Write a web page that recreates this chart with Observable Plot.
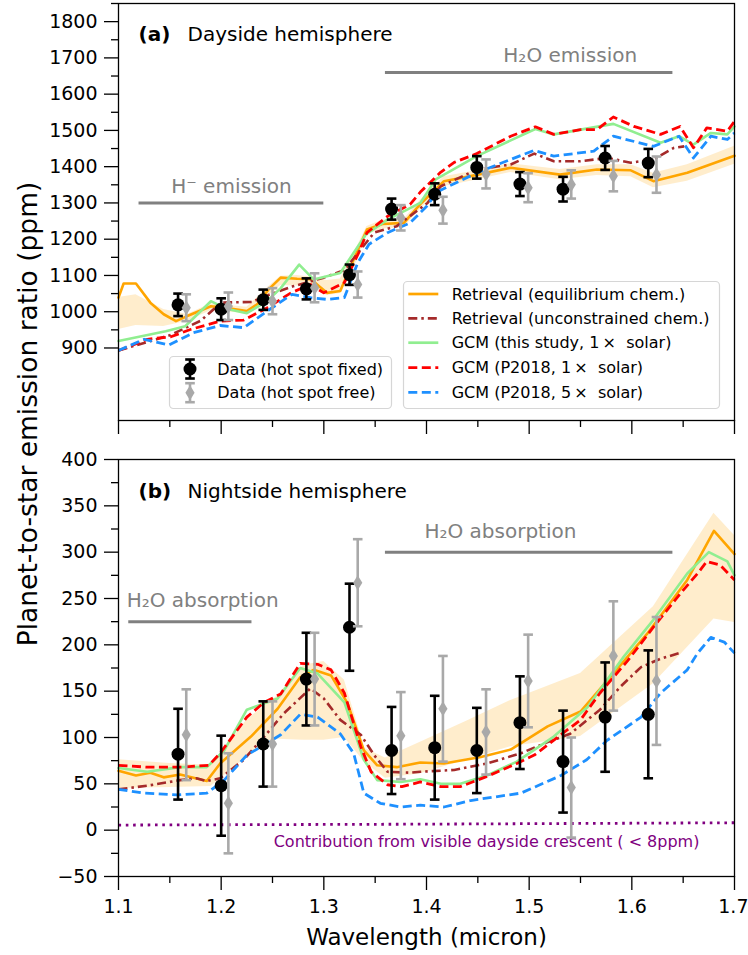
<!DOCTYPE html>
<html><head><meta charset="utf-8">
<script src="https://cdn.jsdelivr.net/npm/d3@7"></script>
<script src="https://cdn.jsdelivr.net/npm/@observablehq/plot@0.6"></script>
<style>
body{margin:0;background:#fff;font-family:"DejaVu Sans",sans-serif;}
#wrap{position:relative;width:748px;height:955px;overflow:hidden;background:#fff;}
#topPanel,#botPanel{position:absolute;left:0;}
#topPanel{top:0}#botPanel{top:440px}
#ylab{position:absolute;left:27px;top:414px;transform:translate(-50%,-50%) rotate(-90deg);white-space:nowrap;font-size:26.5px;color:#000;}
#leg{position:absolute;left:0;top:0;}
</style></head>
<body><div id="wrap"><div id="topPanel"></div><div id="botPanel"></div><div id="ylab">Planet-to-star emission ratio (ppm)</div></div>
<script>
// ---------- axis ticks ----------
const xMajor = [1.1,1.2,1.3,1.4,1.5,1.6,1.7];
const xMinor = [1.15,1.25,1.35,1.45,1.55,1.65];
const dayYMajor = [900,1000,1100,1200,1300,1400,1500,1600,1700,1800];
const dayYMinor = [950,1050,1150,1250,1350,1450,1550,1650,1750,1850];
const nightYMajor = [-50,0,50,100,150,200,250,300,350,400];
const nightYMinor = [-25,25,75,125,175,225,275,325,375];

// ---------- data points ----------
const wlFixed = [1.158,1.200,1.241,1.283,1.325,1.366,1.408,1.449,1.491,1.533,1.574,1.616];
const wlFree  = [1.166,1.207,1.250,1.291,1.333,1.375,1.416,1.458,1.499,1.541,1.582,1.624];
const dayFixed    = [1019,1007,1033,1063,1102,1283,1324,1398,1352,1338,1424,1410];
const dayFixedErr = [31,30,28,29,28,29,30,31,33,34,33,39];
const dayFree     = [1011,1015,1029,1066,1075,1259,1280,1380,1342,1351,1374,1378];
const dayFreeErr  = [37,38,36,40,36,35,37,40,40,39,42,50];
const nightFixed    = [82,48,93,163,219,86,89,86,116,74,122,125];
const nightFixedErr = [49,54,46,50,47,47,56,46,50,55,59,69];
const nightFree     = [103,29,93,163,267,102,131,106,161,46,188,161];
const nightFreeErr  = [49,54,46,50,47,47,57,46,50,54,59,69];

// ---------- dayside models ----------
const dayEqWl = [1.100,1.105,1.117,1.131,1.144,1.156,1.167,1.190,1.204,1.225,1.235,1.246,1.258,1.274,1.287,1.303,1.316,1.330,1.342,1.357,1.378,1.395,1.408,1.417,1.443,1.482,1.530,1.566,1.599,1.621,1.654,1.700];
const dayEq   = [1039,1078,1078,1025,993,974,988,1015,1011,1002,1020,1061,1094,1091,1090,1052,1057,1150,1227,1242,1245,1300,1335,1360,1374,1397,1378,1392,1390,1360,1383,1430];
const dayBandWl = [1.100,1.117,1.144,1.167,1.190,1.225,1.246,1.258,1.274,1.290,1.303,1.316,1.330,1.342,1.357,1.378,1.395,1.417,1.443,1.482,1.530,1.566,1.599,1.621,1.654,1.700];
const dayBandLo = [951,962,959,974,1003,995,1045,1072,1071,1066,1045,1050,1125,1212,1228,1232,1285,1345,1360,1384,1364,1376,1372,1342,1360,1407];
const dayBandHi = [1039,1047,1006,992,1022,1012,1068,1098,1100,1095,1086,1090,1165,1235,1252,1255,1310,1372,1386,1408,1392,1405,1405,1382,1405,1456];
const dayFreeChemWl = [1.100,1.150,1.180,1.200,1.230,1.245,1.270,1.300,1.320,1.349,1.371,1.401,1.414,1.449,1.482,1.505,1.524,1.550,1.576,1.599,1.621,1.641,1.651];
const dayFreeChem   = [893,935,975,1025,1027,1045,1070,1094,1115,1218,1236,1300,1346,1392,1406,1436,1415,1415,1424,1411,1420,1452,1456];
const dayGcmWl = [1.100,1.146,1.165,1.190,1.205,1.225,1.245,1.258,1.276,1.290,1.316,1.341,1.362,1.394,1.409,1.449,1.506,1.524,1.582,1.628,1.646,1.660,1.677,1.693,1.700];
const dayGcm   = [919,946,960,1029,1008,996,1030,1065,1130,1089,1107,1213,1254,1300,1365,1429,1504,1489,1518,1466,1484,1461,1493,1489,1511];
const dayP1Wl = [1.100,1.128,1.151,1.170,1.199,1.222,1.245,1.268,1.287,1.300,1.320,1.334,1.342,1.362,1.384,1.394,1.414,1.427,1.449,1.482,1.506,1.524,1.550,1.566,1.582,1.602,1.628,1.647,1.660,1.673,1.693,1.700];
const dayP1   = [893,924,931,951,974,977,1011,1052,1075,1052,1080,1163,1218,1263,1296,1330,1385,1412,1436,1484,1510,1489,1502,1502,1537,1511,1489,1511,1452,1507,1498,1525];
const dayP5Wl = [1.100,1.125,1.149,1.173,1.199,1.222,1.245,1.269,1.287,1.303,1.320,1.333,1.344,1.362,1.384,1.400,1.410,1.449,1.482,1.505,1.524,1.563,1.582,1.621,1.646,1.660,1.677,1.693,1.700];
const dayP5   = [893,924,908,942,962,956,1002,1048,1039,1034,1039,1135,1186,1218,1245,1290,1330,1383,1420,1445,1429,1443,1484,1456,1484,1424,1484,1475,1493];

// ---------- nightside models ----------
const nightEqWl = [1.100,1.117,1.131,1.144,1.160,1.186,1.199,1.229,1.255,1.277,1.290,1.307,1.323,1.339,1.352,1.371,1.394,1.417,1.453,1.482,1.518,1.550,1.582,1.615,1.654,1.680,1.700];
const nightEq   = [64,59,62,57,60,53,72,101,131,165,173,167,137,86,70,68,73,72,79,87,112,128,169,212,270,323,298];
const nightBandWl = [1.100,1.150,1.190,1.225,1.255,1.280,1.300,1.320,1.340,1.360,1.394,1.440,1.482,1.550,1.621,1.680,1.700];
const nightBandLo = [45,46,47,79,98,97,97,100,73,56,61,76,90,101,158,228,224];
const nightBandHi = [76,72,70,119,145,178,182,162,88,78,95,118,140,169,241,342,318];
const nightFreeChemWl = [1.100,1.128,1.160,1.176,1.186,1.199,1.222,1.242,1.261,1.287,1.300,1.316,1.336,1.349,1.362,1.384,1.394,1.427,1.459,1.492,1.518,1.540,1.569,1.589,1.609,1.628,1.646];
const nightFreeChem   = [44,48,54,56,53,56,76,101,126,153,142,119,103,81,63,62,63,65,72,83,95,104,130,155,176,185,191];
const nightGcmWl = [1.100,1.128,1.160,1.186,1.203,1.225,1.255,1.277,1.294,1.320,1.339,1.352,1.375,1.394,1.414,1.433,1.459,1.488,1.524,1.557,1.592,1.621,1.654,1.675,1.693,1.700];
const nightGcm   = [67,63,68,68,86,130,142,175,169,138,76,54,52,55,50,50,59,74,101,133,187,227,277,300,290,275];
const nightP1Wl = [1.100,1.128,1.160,1.188,1.199,1.225,1.242,1.258,1.277,1.294,1.307,1.320,1.336,1.346,1.362,1.376,1.394,1.414,1.433,1.459,1.488,1.505,1.531,1.550,1.569,1.596,1.621,1.647,1.664,1.673,1.686,1.700];
const nightP1   = [70,68,68,70,83,122,138,147,180,179,173,148,90,63,49,47,52,47,47,58,72,81,103,119,148,183,219,255,277,290,286,270];
const nightP5Wl = [1.100,1.125,1.157,1.186,1.203,1.225,1.242,1.258,1.277,1.294,1.316,1.329,1.339,1.355,1.375,1.394,1.417,1.443,1.492,1.531,1.556,1.576,1.609,1.628,1.654,1.664,1.677,1.690,1.700];
const nightP5   = [44,40,38,40,54,81,92,103,125,122,104,83,40,29,25,27,25,32,40,59,76,97,122,148,173,191,208,203,191];
const crescentWl = [1.10,1.40,1.70];
const crescent   = [5.5,6.5,8];

// ---------- annotations ----------
const dayNotes = [
  {label:"H\u207B emission", x:1.21, x1:1.12, x2:1.30, y:1300, dy:-10},
  {label:"H\u2082O emission", x:1.54, x1:1.36, x2:1.64, y:1660, dy:-10}
];
const nightNotes = [
  {label:"H\u2082O absorption", x:1.182, x1:1.11, x2:1.23, y:225, dy:-15},
  {label:"H\u2082O absorption", x:1.472, x1:1.36, x2:1.64, y:300, dy:-14}
];

(function(){
const C = {eq:"#ffa500", free:"#a52a2a", gcm:"#90ee90", p1:"#ff0000", p5:"#1e90ff", gray:"#a9a9a9", note:"#808080", purple:"#800080"};

const rows = (xs, ys) => xs.map((x,i)=>({x, y:ys[i]}));
const band = (xs, lo, hi) => xs.map((x,i)=>({x, lo:lo[i], hi:hi[i]}));
const pts = (xs, ys, es) => xs.map((x,i)=>({x, y:ys[i], e:es[i]}));

const capSym = {draw(ctx){ctx.moveTo(-4.8,0);ctx.lineTo(4.8,0);}};
const diamondSym = {draw(ctx){ctx.moveTo(0,-7.5);ctx.lineTo(4.6,0);ctx.lineTo(0,7.5);ctx.lineTo(-4.6,0);ctx.closePath();}};

function errMarks(data, color, sym, r){
  return [
    Plot.ruleX(data, {x:"x", y1:d=>d.y-d.e, y2:d=>d.y+d.e, stroke:color, strokeWidth:2.6}),
    Plot.dot(data, {x:"x", y:d=>d.y-d.e, symbol:capSym, fill:"none", stroke:color, strokeWidth:2.6, r:5}),
    Plot.dot(data, {x:"x", y:d=>d.y+d.e, symbol:capSym, fill:"none", stroke:color, strokeWidth:2.6, r:5}),
    sym ? Plot.dot(data, {x:"x", y:"y", symbol:sym, fill:color, stroke:"none", r:5})
        : Plot.dot(data, {x:"x", y:"y", r:r, fill:color, stroke:"none"})
  ];
}

function modelMarks(m){
  return [
    Plot.areaY(band(m.bandWl, m.bandLo, m.bandHi), {x:"x", y1:"lo", y2:"hi", fill:C.eq, fillOpacity:0.2}),
    Plot.line(rows(m.eqWl, m.eq), {x:"x", y:"y", stroke:C.eq, strokeWidth:2.6}),
    Plot.line(rows(m.freeWl, m.free), {x:"x", y:"y", stroke:C.free, strokeWidth:2.6, strokeDasharray:"9,4,2.5,4", strokeLinecap:"butt"}),
    Plot.line(rows(m.gcmWl, m.gcm), {x:"x", y:"y", stroke:C.gcm, strokeWidth:2.6}),
    Plot.line(rows(m.p1Wl, m.p1), {x:"x", y:"y", stroke:C.p1, strokeWidth:2.8, strokeDasharray:"9,4.5", strokeLinecap:"butt"}),
    Plot.line(rows(m.p5Wl, m.p5), {x:"x", y:"y", stroke:C.p5, strokeWidth:2.8, strokeDasharray:"9,4.5", strokeLinecap:"butt"})
  ];
}

function axes(yMajor, yMinor, showX){
  const lab = showX ? d3.format(".1f") : ()=>"";
  const marks = [
    Plot.axisY({ticks:yMajor, tickSize:14, tickPadding:7, tickFormat:d3.format("d"), fontSize:19, strokeWidth:1.3, label:null}),
    Plot.axisY({ticks:yMinor, tickSize:7, tickFormat:()=>"", strokeWidth:1.3, label:null}),
    Plot.axisX({ticks:xMajor, tickSize:14, tickPadding:9, tickFormat:d => (showX && d < 1.65) ? lab(d) : "", fontSize:19, strokeWidth:1.3, label:null}),
    Plot.axisX({ticks:xMinor, tickSize:7, tickFormat:()=>"", strokeWidth:1.3, label:null}),
    Plot.frame({stroke:"black", strokeWidth:1.3})
  ];
  if (showX) marks.push(Plot.text(xMajor.slice(-1), {x:d=>d, text:d=>lab(d), frameAnchor:"bottom", lineAnchor:"top", dy:23, dx:14, textAnchor:"end", fontSize:19}));
  return marks;
}

function noteMarks(notes){
  return [
    Plot.ruleY(notes, {y:"y", x1:"x1", x2:"x2", stroke:C.note, strokeWidth:3}),
    ...notes.map(n => Plot.text([n], {x:"x", y:"y", text:"label", dy:n.dy, lineAnchor:"bottom", fill:C.note, fontSize:20}))
  ];
}

function titleMarks(tag, title, dy){
  return [
    Plot.text([tag], {text:d=>d, frameAnchor:"top-left", dx:20, dy:dy, lineAnchor:"bottom", textAnchor:"start", fontWeight:"bold", fontSize:20}),
    Plot.text([title], {text:d=>d, frameAnchor:"top-left", dx:69, dy:dy, lineAnchor:"bottom", textAnchor:"start", fontSize:20})
  ];
}

const style = {fontFamily:"DejaVu Sans", background:"white", overflow:"visible", color:"black"};

const plotTop = Plot.plot({
  width:748, height:440, marginTop:3, marginBottom:20, marginLeft:118, marginRight:14,
  style,
  x:{domain:[1.1,1.7], axis:null},
  y:{domain:[700,1850], axis:null},
  marks:[
    ...modelMarks({bandWl:dayBandWl, bandLo:dayBandLo, bandHi:dayBandHi, eqWl:dayEqWl, eq:dayEq,
      freeWl:dayFreeChemWl, free:dayFreeChem, gcmWl:dayGcmWl, gcm:dayGcm, p1Wl:dayP1Wl, p1:dayP1, p5Wl:dayP5Wl, p5:dayP5}),
    ...noteMarks(dayNotes),
    ...errMarks(pts(wlFixed, dayFixed, dayFixedErr), "black", null, 6.5),
    ...errMarks(pts(wlFree, dayFree, dayFreeErr), C.gray, diamondSym),
    ...titleMarks("(a)", "Dayside hemisphere", 37.7),
    ...axes(dayYMajor, dayYMinor, false)
  ]
});
document.getElementById("topPanel").appendChild(plotTop);

const plotBot = Plot.plot({
  width:748, height:515, marginTop:19, marginBottom:79, marginLeft:118, marginRight:14,
  style,
  x:{domain:[1.1,1.7], axis:null},
  y:{domain:[-50,400], axis:null},
  marks:[
    ...modelMarks({bandWl:nightBandWl, bandLo:nightBandLo, bandHi:nightBandHi, eqWl:nightEqWl, eq:nightEq,
      freeWl:nightFreeChemWl, free:nightFreeChem, gcmWl:nightGcmWl, gcm:nightGcm, p1Wl:nightP1Wl, p1:nightP1, p5Wl:nightP5Wl, p5:nightP5}),
    Plot.line(rows(crescentWl, crescent), {x:"x", y:"y", stroke:C.purple, strokeWidth:2.8, strokeDasharray:"2.6,4.7", strokeLinecap:"butt"}),
    Plot.text(["Contribution from visible dayside crescent ( < 8ppm)"], {text:d=>d, x:()=>1.4585, y:()=>-18, lineAnchor:"bottom", fill:C.purple, fontSize:16}),
    ...noteMarks(nightNotes),
    ...errMarks(pts(wlFixed, nightFixed, nightFixedErr), "black", null, 6.5),
    ...errMarks(pts(wlFree, nightFree, nightFreeErr), C.gray, diamondSym),
    ...titleMarks("(b)", "Nightside hemisphere", 38.3),
    ...axes(nightYMajor, nightYMinor, true),
    Plot.text(["Wavelength (micron)"], {text:d=>d, frameAnchor:"bottom", dy:68, lineAnchor:"bottom", fontSize:23})
  ]
});
document.getElementById("botPanel").appendChild(plotBot);

// ---------- legends (overlay) ----------
const NS = "http://www.w3.org/2000/svg";
const leg = document.createElementNS(NS, "svg");
leg.setAttribute("id","leg"); leg.setAttribute("width",748); leg.setAttribute("height",955);
leg.style.fontFamily = "DejaVu Sans";
document.getElementById("wrap").appendChild(leg);
function el(tag, attrs, text){
  const e = document.createElementNS(NS, tag);
  for (const k in attrs) e.setAttribute(k, attrs[k]);
  if (text != null) e.textContent = text;
  leg.appendChild(e); return e;
}
el("rect",{x:169.5,y:356.5,width:222,height:52,rx:4,fill:"rgba(255,255,255,0.8)",stroke:"#d6d6d6","stroke-width":1.2});
const dataLegend = [
  {label:"Data (hot spot fixed)", color:"black", y:369, shape:"circle"},
  {label:"Data (hot spot free)", color:C.gray, y:392.7, shape:"diamond"}
];
for (const d of dataLegend){
  el("line",{x1:190,x2:190,y1:d.y-9.5,y2:d.y+9.5,stroke:d.color,"stroke-width":2.6});
  el("line",{x1:185.2,x2:194.8,y1:d.y-9.5,y2:d.y-9.5,stroke:d.color,"stroke-width":2.6});
  el("line",{x1:185.2,x2:194.8,y1:d.y+9.5,y2:d.y+9.5,stroke:d.color,"stroke-width":2.6});
  if (d.shape==="circle") el("circle",{cx:190,cy:d.y,r:6.5,fill:d.color});
  else el("path",{d:`M190,${d.y-7.5}L194.6,${d.y}L190,${d.y+7.5}L185.4,${d.y}Z`,fill:d.color});
  el("text",{x:217.3,y:d.y,"dominant-baseline":"central","font-size":16},d.label);
}
el("rect",{x:403.5,y:281.5,width:316,height:127,rx:4,fill:"rgba(255,255,255,0.8)",stroke:"#d6d6d6","stroke-width":1.2});
const modelLegend = [
  {label:"Retrieval (equilibrium chem.)", color:C.eq, dash:null, y:294},
  {label:"Retrieval (unconstrained chem.)", color:C.free, dash:"9,4,2.5,4", y:318.3},
  {label:"GCM (this study, 1\u2009\u00D7  solar)", color:C.gcm, dash:null, y:342.7},
  {label:"GCM (P2018, 1\u2009\u00D7  solar)", color:C.p1, dash:"9,4.5", y:367.7},
  {label:"GCM (P2018, 5\u2009\u00D7  solar)", color:C.p5, dash:"9,4.5", y:392.3}
];
for (const m of modelLegend){
  const a = {x1:408.3,x2:438.3,y1:m.y,y2:m.y,stroke:m.color,"stroke-width":2.7};
  if (m.dash) a["stroke-dasharray"] = m.dash;
  el("line",a);
  const t = el("text",{x:451.7,y:m.y,"dominant-baseline":"central","font-size":16},m.label);
  t.style.whiteSpace = "pre";
}
})();
</script>
</body></html>
